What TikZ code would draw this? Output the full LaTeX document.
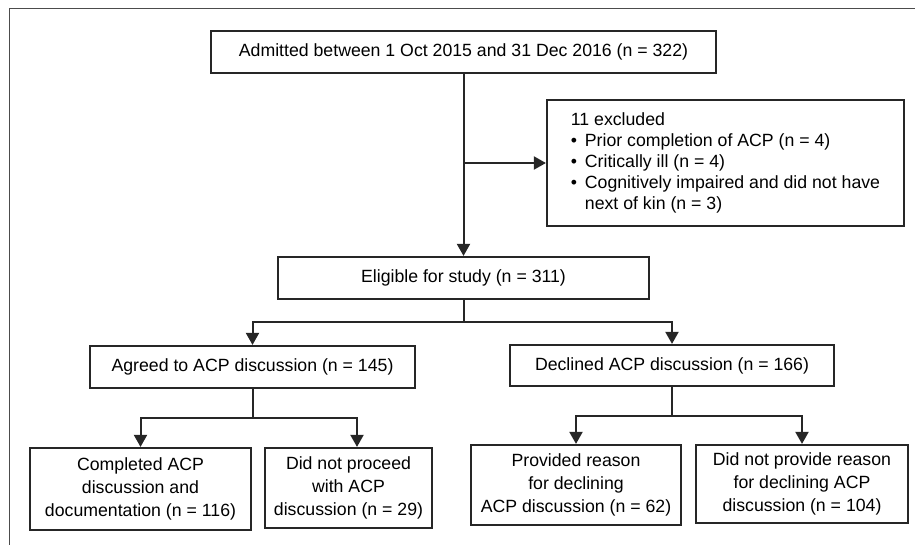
\documentclass[tikz,border=0pt]{standalone}
\usepackage{fontspec}
\setmainfont{Liberation Sans}
\usetikzlibrary{positioning,arrows.meta}

\tikzset{
  box/.style={draw=black!85, line width=2.2pt, align=center, inner sep=2pt,
    font=\fontsize{17.7}{22.7}\selectfont},
  flow/.style={draw=black!85, line width=2pt},
  arr/.style={flow, -{Triangle[width=13pt,length=12pt]}},
}

\begin{document}
\begin{tikzpicture}[x=1pt,y=1pt,node distance=2cm,on grid]
   \path[use as bounding box] (0,0) rectangle (915,-544);
   \draw[black!70, line width=1pt] (9,-546) -- (9,-8) -- (917,-8);

   \node[box, minimum width=505pt, minimum height=42pt] (adm) at (463.5,-52)
     {Admitted between 1 Oct 2015 and 31 Dec 2016 (n = 322)};
   \node[box, minimum width=357pt, minimum height=126pt, align=left,
         font=\fontsize{17.7}{21}\selectfont] (excl) [below right=111pt and 262pt of adm]
     {11 excluded\\
      \textbullet\ \,Prior completion of ACP (n = 4)\\
      \textbullet\ \,Critically ill (n = 4)\\
      \textbullet\ \,Cognitively impaired and did not have\\
      \phantom{\textbullet\ \,}next of kin (n = 3)};
   \node[box, minimum width=371pt, minimum height=42pt] (elig) [below=226pt of adm]
     {Eligible for study (n = 311)};
   \node[box, minimum width=325pt, minimum height=42pt] (agree) [below left=89pt and 211pt of elig]
     {Agreed to ACP discussion (n = 145)};
   \node[box, minimum width=324pt, minimum height=41pt] (decl) [below right=87.5pt and 208.5pt of elig]
     {Declined ACP discussion (n = 166)};
   \node[box, minimum width=221pt, minimum height=82pt] (comp) [below left=122pt and 112pt of agree]
     {Completed ACP\\ discussion and\\ documentation (n = 116)};
   \node[box, minimum width=167pt, minimum height=80pt] (noproc) [below right=121pt and 96pt of agree]
     {Did not proceed\\ with ACP\\ discussion (n = 29)};
   \node[box, minimum width=210pt, minimum height=80pt] (prov) [below left=119.5pt and 96pt of decl]
     {Provided reason\\ for declining\\ ACP discussion (n = 62)};
   \node[box, minimum width=212pt, minimum height=78pt] (noprov) [below right=118.5pt and 130pt of decl]
     {Did not provide reason\\ for declining ACP\\ discussion (n = 104)};

   \coordinate[below=44pt of elig] (fork1);
   \coordinate[below=51pt of agree] (fork2);
   \coordinate[below=50.5pt of decl] (fork3);

   \draw[arr] (adm) -- (elig);
   \draw[arr] (adm.south |- excl.west) -- (excl.west);
   \draw[flow] (elig) -- (fork1);
   \draw[arr] (fork1) -| (agree);
   \draw[arr] (fork1) -| (decl);
   \draw[flow] (agree) -- (fork2);
   \draw[arr] (fork2) -| (comp);
   \draw[arr] (fork2) -| ([xshift=8.5pt]noproc.north);
   \draw[flow] (decl) -- (fork3);
   \draw[arr] (fork3) -| (prov);
   \draw[arr] (fork3) -| (noprov);
\end{tikzpicture}
\end{document}
